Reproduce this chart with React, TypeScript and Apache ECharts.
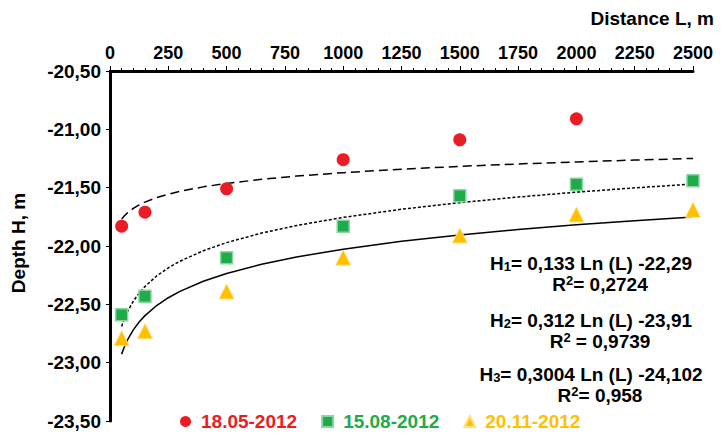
import React, { useEffect, useRef } from "react";
import * as echarts from "echarts";

const seriesNames = ["18.05-2012", "15.08-2012", "20.11-2012"];
const distanceL = [50, 150, 500, 1000, 1500, 2000, 2500];
const depthMay = [-21.83, -21.71, -21.51, -21.26, -21.09, -20.91, null];
const depthAug = [-22.59, -22.43, -22.1, -21.83, -21.57, -21.47, -21.44];
const depthNov = [-22.79, -22.73, -22.39, -22.1, -21.91, -21.73, -21.69];
// trend-line coefficients as printed on the chart: H = a Ln(L) + b
const trendA = [0.133, 0.312, 0.3004];
const trendB = [-22.29, -23.91, -24.102];
const trendL = [50, 60, 75, 100, 125, 150, 200, 250, 300, 400, 500, 650, 800, 1000, 1250, 1500, 1750, 2000, 2250, 2500];
const xTicks = { min: 0, max: 2500, interval: 250 };
const yTicks = { min: -23.5, max: -20.5, interval: 0.5 };
const equations = [
  ["H{s|1}= 0,133 Ln (L) -22,29", "R{p|2}= 0,2724"],
  ["H{s|2}= 0,312 Ln (L) -23,91", "R{p|2} = 0,9739"],
  ["H{s|3}= 0,3004 Ln (L) -24,102", "R{p|2}= 0,958"],
];

const colors = ["#ec1c24", "#1fab4a", "#ffc000"];
const FONT = "'Liberation Sans', Arial, sans-serif";

export default function App() {
  const ref = useRef<HTMLDivElement>(null);
  useEffect(() => {
    if (!ref.current) return;
    const chart = echarts.init(ref.current, undefined, { renderer: "svg" });
    const pts = (ys: (number | null)[]) =>
      distanceL.map((l, i) => [l, ys[i]]).filter((p) => p[1] !== null);
    const trend = (k: number) => trendL.map((l) => [l, trendA[k] * Math.log(l) + trendB[k]]);
    const richS = {
      s: { fontSize: 13, fontWeight: "bold", fontFamily: FONT, verticalAlign: "bottom", lineHeight: 20, color: "#000" },
      p: { fontSize: 13, fontWeight: "bold", fontFamily: FONT, verticalAlign: "top", lineHeight: 20, color: "#000" },
    };
    const eqY = [263, 320, 374];
    const graphics: any[] = [];
    equations.forEach((eq, i) => {
      graphics.push({
        type: "text",
        x: 591,
        y: eqY[i],
        style: {
          text: eq[0], rich: richS, fontSize: 19, fontWeight: "bold", fontFamily: FONT, fill: "#000",
          lineHeight: 20, textAlign: "center", textVerticalAlign: "middle",
        },
      });
      graphics.push({
        type: "text",
        x: 600,
        y: eqY[i] + 21,
        style: {
          text: eq[1], rich: richS, fontSize: 19, fontWeight: "bold", fontFamily: FONT, fill: "#000",
          lineHeight: 20, textAlign: "center", textVerticalAlign: "middle",
        },
      });
    });
    graphics.push({
      type: "text", x: 714, y: 18,
      style: { text: "Distance L, m", fontSize: 19, fontWeight: "bold", fontFamily: FONT, fill: "#000", textAlign: "right", textVerticalAlign: "middle" },
    });
    graphics.push({
      type: "text", x: 18, y: 243, rotation: Math.PI / 2,
      style: { text: "Depth H, m", fontSize: 19, fontWeight: "bold", fontFamily: FONT, fill: "#000", textAlign: "center", textVerticalAlign: "middle" },
    });
    chart.setOption({
      animation: false,
      backgroundColor: "#fff",
      grid: { left: 110, right: 33, top: 71, bottom: 15 },
      xAxis: {
        type: "value", position: "top", min: xTicks.min, max: xTicks.max, interval: xTicks.interval,
        axisLine: { show: true, lineStyle: { color: "#000", width: 3 } },
        axisTick: { show: true, inside: false, length: 5, lineStyle: { color: "#000", width: 1 } },
        minorTick: { show: true, splitNumber: 5, length: 3, lineStyle: { color: "#000", width: 1 } },
        splitLine: { show: false },
        axisLabel: {
          margin: 9, fontSize: 18, fontWeight: "bold", color: "#000", fontFamily: FONT,
          formatter: (v: number) => String(v),
        },
      },
      yAxis: {
        type: "value", min: yTicks.min, max: yTicks.max, interval: yTicks.interval,
        axisLine: { show: true, lineStyle: { color: "#000", width: 3 } },
        axisTick: { show: true, inside: false, length: 4, lineStyle: { color: "#000", width: 1 } },
        splitLine: { show: false },
        axisLabel: {
          margin: 9, fontSize: 19, fontWeight: "bold", color: "#000", fontFamily: FONT,
          formatter: (v: number) => v.toFixed(2).replace(".", ","),
        },
      },
      legend: {
        top: 412, left: 180, itemWidth: 11, itemHeight: 11, itemGap: 24, padding: 0,
        textStyle: { fontSize: 19, fontWeight: "bold", fontFamily: FONT, padding: [0, 0, 0, 5] },
        data: seriesNames.map((n, i) => ({ name: n, textStyle: { color: colors[i] } })),
      },
      graphic: graphics,
      series: [
        { name: "trend1", type: "line", data: trend(0), showSymbol: false, lineStyle: { color: "#000", width: 1.5, type: [9, 5] }, z: 1 },
        { name: "trend2", type: "line", data: trend(1), showSymbol: false, lineStyle: { color: "#000", width: 1.5, type: [3, 2] }, z: 1 },
        { name: "trend3", type: "line", data: trend(2), showSymbol: false, lineStyle: { color: "#000", width: 1.5, type: "solid" }, z: 1 },
        { name: seriesNames[0], type: "scatter", data: pts(depthMay), symbol: "circle", symbolSize: 13, itemStyle: { color: colors[0], opacity: 1 }, z: 3 },
        { name: seriesNames[1], type: "scatter", data: pts(depthAug), symbol: "rect", symbolSize: 12, itemStyle: { color: colors[1], borderColor: "#8ad6a0", borderWidth: 1.5, opacity: 1 }, z: 3 },
        { name: seriesNames[2], type: "scatter", data: pts(depthNov), symbol: "triangle", symbolSize: 15, itemStyle: { color: colors[2], borderColor: "#ffe27a", borderWidth: 1, opacity: 1 }, z: 3 },
      ],
    });
    return () => chart.dispose();
  }, []);
  return <div ref={ref} style={{ position: "absolute", left: 0, top: 0, width: 726, height: 436 }} />;
}
